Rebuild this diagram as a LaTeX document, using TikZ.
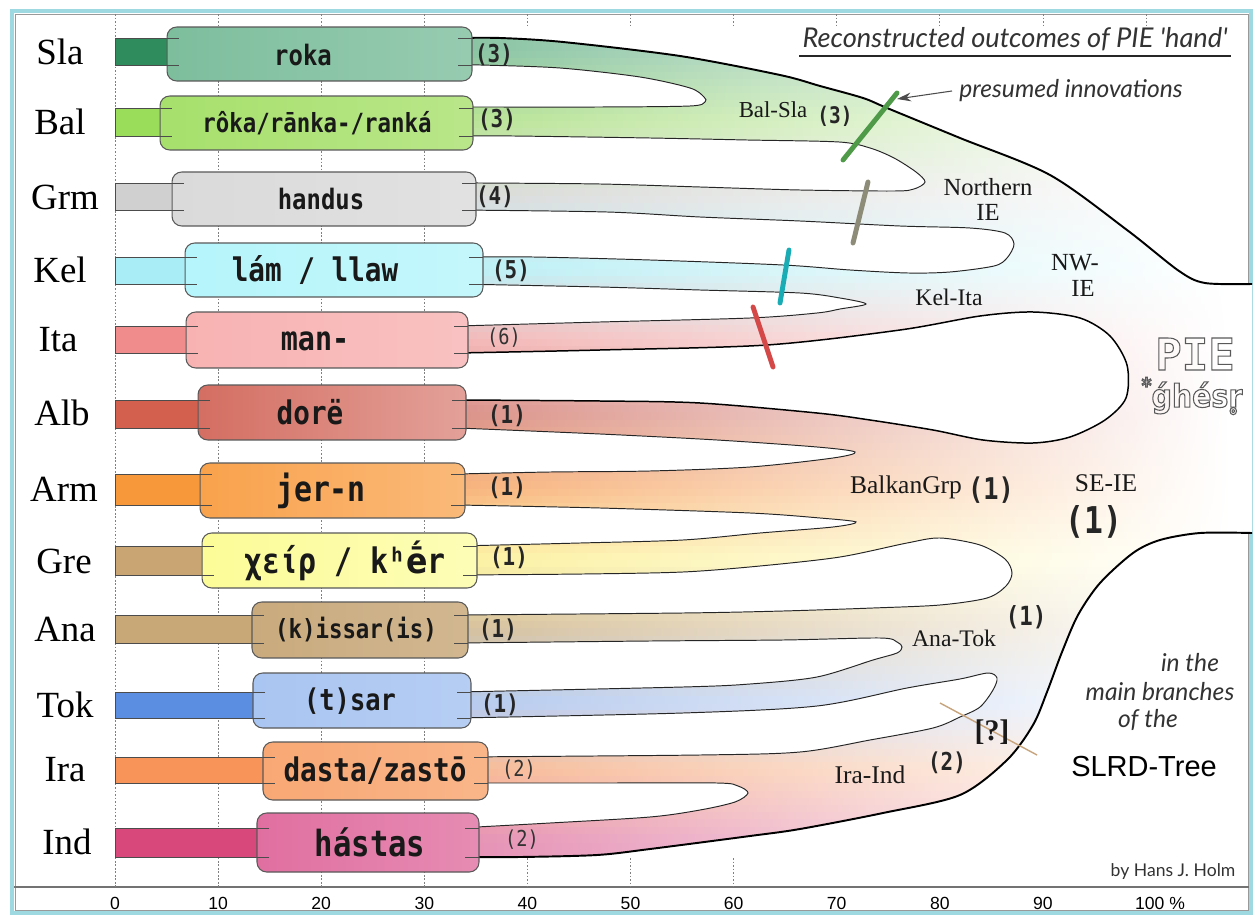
\documentclass[tikz,border=0pt]{standalone}
\usepackage{fontspec}
\setmainfont{Liberation Serif}
\newfontfamily\boxfont{DejaVu Sans Mono}[FakeStretch=0.85]
\newfontfamily\monofont{DejaVu Sans Mono}
\newfontfamily\dvsanscond{DejaVu Sans}[FakeStretch=0.9]
\newfontfamily\humfont{Lato}
\newfontfamily\arialfont{Liberation Sans}
\usetikzlibrary{arrows.meta}
\newcommand\myfs[1]{\fontsize{#1}{#1}\selectfont}
\newcommand\outlon{\special{pdf:literal direct 1 Tr 0.6 w}}
\newcommand\outloff{\special{pdf:literal direct 0 Tr}}
\definecolor{frameC}{HTML}{9ED8E0}
\definecolor{SlaBar}{HTML}{2F8C5C}\definecolor{SlaBox}{HTML}{7DBE9D}\definecolor{SlaBr}{HTML}{88C3A2}
\definecolor{BalBar}{HTML}{9ADD5A}\definecolor{BalBox}{HTML}{A7E06C}\definecolor{BalBr}{HTML}{B8E494}
\definecolor{GrmBar}{HTML}{D0D0D0}\definecolor{GrmBox}{HTML}{DADADA}\definecolor{GrmBr}{HTML}{DADADA}
\definecolor{KelBar}{HTML}{A9EEF6}\definecolor{KelBox}{HTML}{B5F5FB}\definecolor{KelBr}{HTML}{BAF1F7}
\definecolor{ItaBar}{HTML}{F08C8C}\definecolor{ItaBox}{HTML}{F8B2B2}\definecolor{ItaBr}{HTML}{F4B8B8}
\definecolor{AlbBar}{HTML}{D3604E}\definecolor{AlbBox}{HTML}{D46E62}\definecolor{AlbBr}{HTML}{DA928A}
\definecolor{ArmBar}{HTML}{F7993A}\definecolor{ArmBox}{HTML}{F9A24C}\definecolor{ArmBr}{HTML}{F8B47C}
\definecolor{GreBar}{HTML}{C9A574}\definecolor{GreBox}{HTML}{FCFC98}\definecolor{GreBr}{HTML}{FDF4A4}
\definecolor{AnaBar}{HTML}{C9A877}\definecolor{AnaBox}{HTML}{C9AA7D}\definecolor{AnaBr}{HTML}{D6C09C}
\definecolor{TokBar}{HTML}{5B8EE0}\definecolor{TokBox}{HTML}{A9C5F1}\definecolor{TokBr}{HTML}{B4CBF2}
\definecolor{IraBar}{HTML}{F8945A}\definecolor{IraBox}{HTML}{F8A874}\definecolor{IraBr}{HTML}{F8BA94}
\definecolor{IndBar}{HTML}{D8487A}\definecolor{IndBox}{HTML}{E06FA0}\definecolor{IndBr}{HTML}{E590B4}
\definecolor{innovG}{HTML}{4E9A48}\definecolor{innovGr}{HTML}{8C8C78}
\definecolor{innovC}{HTML}{1AACB4}\definecolor{innovR}{HTML}{D44848}\definecolor{tanL}{HTML}{C8A47C}
\newcommand\tongue[2][holeline]{\fill[white] plot[smooth,tension=0.5] coordinates {#2} -- cycle; \draw[#1] plot[smooth,tension=0.5] coordinates {#2};}
\newcommand\rowbar[4]{\filldraw[fill=#1, draw=black!70, line width=0.5pt] (115,#2) rectangle (#4,#3);}
\begin{document}
\begin{tikzpicture}[x=0.02cm, y=-0.02cm,
  holeline/.style={draw=black!85, line width=0.55pt},
  bulbline/.style={draw=black, line width=0.85pt},
  outerline/.style={draw=black, line width=1.1pt},
  gridl/.style={draw=black!50, line width=0.4pt, dash pattern=on 1pt off 1pt},
  boxn/.style={draw=black!65, line width=0.6pt, rounded corners=5.5pt, inner sep=0},
  boxtxt/.style={inner sep=0, text=black!90},
  num/.style={inner sep=0, font=\boxfont\bfseries\myfs{14}, text=black!85},
  numl/.style={inner sep=0, font=\boxfont\myfs{12.5}, text=black!80},
  rowlab/.style={inner sep=0, font=\myfs{21}},
  treelab/.style={inner sep=0, font=\myfs{14}, text=black!90},
  stub/.style={draw=black!70, line width=0.5pt},
  innov/.style={line width=2.8pt, line cap=round},
  axlab/.style={inner sep=0, font=\arialfont\myfs{10}},
  notes/.style={inner sep=0, font=\humfont\itshape\myfs{14}, text=black!80}]
\useasboundingbox (0,0) rectangle (1257,915);
\fill[white] (0,0) rectangle (1257,915);
% frame and axis
\draw[frameC, line width=2.2pt] (12,11) rectangle (1251,913);
\draw[black!40, line width=0.4pt] (15,14) rectangle (1248,910);
\draw[black!55, line width=1.2pt] (14,887) -- (1249,887);
\foreach \k in {0,1,2,3} \draw[gridl] ({115+103.1*\k},14) -- ({115+103.1*\k},887);
\foreach \k in {4,...,10} \draw[gridl] ({115+103.1*\k},14) -- ({115+103.1*\k},27);
\foreach \k in {4,5,6} \draw[gridl] ({115+103.1*\k},858) -- ({115+103.1*\k},887);
% tree body
\begin{scope}
\clip plot[smooth,tension=0.5] coordinates {(458,38) (500,38) (563,42) (680,56) (780,75) (820,86) (863,98) (887,108) (960,138) (1050,175) (1127,230) (1179,271) (1205,283) (1252,284)}
 -- plot[smooth,tension=0.5] coordinates {(1252,533) (1200,533) (1160,540) (1133,553) (1100,583) (1078,615) (1062,652) (1047,692) (1033,725) (1007,760) (960,795) (883,813) (800,829) (750,836) (650,849) (597,855) (520,857) (458,857)} -- cycle;
\fill[white] (0,0) rectangle (1257,915);
\shade[left color=SlaBr, middle color=SlaBr!95!white, right color=white] (458,20) rectangle (1230,52.6);
\shade[left color=IndBr, middle color=IndBr!95!white, right color=white] (458,841.4) rectangle (1230,880);
\foreach \ca/\cola/\cb/\colb in {52/SlaBr/122/BalBr, 122/BalBr/197/GrmBr, 197/GrmBr/270/KelBr, 270/KelBr/340/ItaBr, 340/ItaBr/413/AlbBr, 413/AlbBr/490/ArmBr, 490/ArmBr/561/GreBr, 561/GreBr/629/AnaBr, 629/AnaBr/705/TokBr, 705/TokBr/770/IraBr, 770/IraBr/842/IndBr}{
  \foreach \k in {0,...,9}{
    \pgfmathsetmacro\ya{\ca+(\cb-\ca)*\k/10-0.6}
    \pgfmathsetmacro\yb{\ca+(\cb-\ca)*(\k+1)/10+0.6}
    \pgfmathsetmacro\mix{100-(\k+0.5)*10}
    \colorlet{tmpc}{\cola!\mix!\colb}
    \shade[left color=tmpc, middle color=tmpc!95!white, right color=white] (458,\ya) rectangle (1230,\yb);
  }}
\end{scope}
\draw[outerline] plot[smooth,tension=0.5] coordinates {(458,38) (500,38) (563,42) (680,56) (780,75) (820,86) (863,98) (887,108) (960,138) (1050,175) (1127,230) (1179,271) (1205,283) (1252,284)};
\draw[outerline] plot[smooth,tension=0.5] coordinates {(1252,533) (1200,533) (1160,540) (1133,553) (1100,583) (1078,615) (1062,652) (1047,692) (1033,725) (1007,760) (960,795) (883,813) (800,829) (750,836) (650,849) (597,855) (520,857) (458,857)};
\tongue{(458,65) (480,65) (560,68) (640,77) (690,88) (704,97) (705,102) (690,106) (600,107) (480,107) (458,107)}
\tongue{(458,136) (513,136) (650,138) (747,140) (839,142) (870,148) (894,158) (916,172) (925,182) (914,189) (894,191) (800,190) (700,187) (600,184) (480,183) (458,183)}
\tongue{(458,210) (607,212) (700,217) (800,221) (900,226) (970,228) (1005,233) (1014,244) (1007,258) (994,266) (950,272) (908,273) (850,270) (783,265) (650,260) (533,257) (458,257)}
\tongue{(458,284) (600,287) (700,290) (800,293) (840,298) (866,304) (840,309) (817,313) (750,318) (600,322) (458,326)}
\tongue[bulbline]{(458,353) (600,350) (767,345) (900,330) (980,316) (1033,312) (1080,318) (1110,336) (1127,365) (1126,398) (1105,420) (1070,437) (1033,443) (983,440) (933,430) (870,420) (817,413) (700,403) (600,401) (458,400)}
\tongue{(458,428) (600,434) (717,440) (817,447) (855,452) (833,458) (750,467) (650,471) (550,472) (458,474)}
\tongue{(458,505) (600,508) (750,513) (820,518) (856,522) (833,527) (760,533) (683,540) (580,543) (458,546)}
\tongue{(458,575) (583,574) (683,572) (760,566) (840,557) (907,543) (940,538) (980,545) (1005,559) (1012,573) (1006,586) (987,598) (940,605) (873,608) (783,611) (683,613) (458,615)}
\tongue{(458,643) (650,641) (783,640) (880,638) (897,642) (902,647) (897,653) (873,660) (817,677) (750,684) (683,687) (458,692)}
\tongue{(458,718) (683,713) (817,706) (907,688) (960,679) (988,673) (997,678) (993,690) (980,707) (960,717) (933,728) (870,740) (800,752) (700,755) (458,757)}
\tongue{(458,783) (600,783) (717,783) (738,786) (748,793) (735,802) (700,810) (650,817) (550,823) (458,828)}
% bars
\rowbar{SlaBar}{38}{65}{185}
\rowbar{BalBar}{108}{136}{180}
\rowbar{GrmBar}{183}{210}{190}
\rowbar{KelBar}{257}{284}{205}
\rowbar{ItaBar}{326}{353}{205}
\rowbar{AlbBar}{400}{428}{215}
\rowbar{ArmBar}{474}{505}{220}
\rowbar{GreBar}{546}{575}{220}
\rowbar{AnaBar}{615}{643}{270}
\rowbar{TokBar}{692}{718}{270}
\rowbar{IraBar}{757}{783}{280}
\rowbar{IndBar}{828}{857}{275}
% boxes
\node[boxn, left color=SlaBox, right color=SlaBox!80!white, minimum width=6.10cm, minimum height=1.08cm] (slaB) at (319.5,54) {};
\node[boxn, left color=BalBox, right color=BalBox!80!white, minimum width=6.26cm, minimum height=1.08cm] (balB) at (316.5,123) {};
\node[boxn, left color=GrmBox, right color=GrmBox!80!white, minimum width=6.08cm, minimum height=1.08cm] (grmB) at (324,199) {};
\node[boxn, left color=KelBox, right color=KelBox!80!white, minimum width=5.96cm, minimum height=1.08cm] (kelB) at (334,270) {};
\node[boxn, left color=ItaBox, right color=ItaBox!80!white, minimum width=5.64cm, minimum height=1.12cm] (itaB) at (327,340) {};
\node[boxn, left color=AlbBox, right color=AlbBox!65!white, minimum width=5.36cm, minimum height=1.10cm] (albB) at (332,412.5) {};
\node[boxn, left color=ArmBox, right color=ArmBox!75!white, minimum width=5.30cm, minimum height=1.10cm] (armB) at (332.5,490.5) {};
\node[boxn, left color=GreBox, right color=GreBox!70!white, minimum width=5.50cm, minimum height=1.10cm] (greB) at (339.5,560.5) {};
\node[boxn, left color=AnaBox, right color=AnaBox!85!white, minimum width=4.32cm, minimum height=1.12cm] (anaB) at (360,630) {};
\node[boxn, left color=TokBox, right color=TokBox!85!white, minimum width=4.36cm, minimum height=1.10cm] (tokB) at (362,700.5) {};
\node[boxn, left color=IraBox, right color=IraBox!85!white, minimum width=4.50cm, minimum height=1.16cm] (iraB) at (375.5,771) {};
\node[boxn, left color=IndBox, right color=IndBox!80!white, minimum width=4.44cm, minimum height=1.18cm] (indB) at (368,842.5) {};
% stubs (band outlines seen at box edges)
\foreach \l/\r/\t/\b in {167/472/38/65, 160/473/108/136, 172/476/183/210, 185/483/257/284, 186/468/326/353, 198/466/400/428, 200/465/474/505, 202/477/546/575, 252/468/615/643, 253/471/692/718, 263/488/757/783, 257/479/828/857}
  {\draw[stub] (\l,\t) -- ++(12,0); \draw[stub] (\l,\b) -- ++(12,0);
   \draw[stub] (\r,\t) -- ++(-14,0); \draw[stub] (\r,\b) -- ++(-14,0);}
% box texts
\node[boxtxt, font=\boxfont\bfseries\myfs{16}] (slaT) at (303,55) {roka};
\node[boxtxt, font=\boxfont\bfseries\myfs{15}] (balT) at (317,123) {rôka/rānka-/ranká};
\node[boxtxt, font=\boxfont\bfseries\myfs{16}] (grmT) at (321,199) {handus};
\node[boxtxt, font=\boxfont\bfseries\myfs{18.5}] (kelT) at (315,270) {lám / llaw};
\node[boxtxt, font=\boxfont\bfseries\myfs{19}] (itaT) at (315,341) {man-};
\node[boxtxt, font=\boxfont\bfseries\myfs{18.5}] (albT) at (310,412) {dorë};
\node[boxtxt, font=\boxfont\bfseries\myfs{20}] (armT) at (321,491) {jer-n};
\node[boxtxt, font=\boxfont\bfseries\myfs{20}] (greT) at (345,561) {χείρ / kʰ{\dvsanscond\bfseries ḗ}r};
\node[boxtxt, font=\boxfont\bfseries\myfs{15}] (anaT) at (356,630) {(k)issar(is)};
\node[boxtxt, font=\boxfont\bfseries\myfs{17}] (tokT) at (350,701) {(t)sar};
\node[boxtxt, font=\boxfont\bfseries\myfs{18.5}] (iraT) at (375,771) {dasta/zastō};
\node[boxtxt, font=\boxfont\bfseries\myfs{20.5}] (indT) at (370,842) {hástas};
% numbers
\node[num] (slaN) at (494,55) {(3)};
\node[num] (balN) at (497,120) {(3)};
\node[num] (grmN) at (495,197) {(4)};
\node[num] (kelN) at (511,271) {(5)};
\node[numl] (itaN) at (504,338) {(6)};
\node[num] (albN) at (507,416) {(1)};
\node[num] (armN) at (507,488) {(1)};
\node[num] (greN) at (509,558) {(1)};
\node[num] (anaN) at (498,630) {(1)};
\node[num] (tokN) at (500,705) {(1)};
\node[numl] (iraN) at (519,770) {(2)};
\node[numl] (indN) at (522,840) {(2)};
% row labels
\node[rowlab] (slaL) at (60,52) {Sla};
\node[rowlab] (balL) at (60,122) {Bal};
\node[rowlab] (grmL) at (65,197) {Grm};
\node[rowlab] (kelL) at (60,270) {Kel};
\node[rowlab] (itaL) at (58,340) {Ita};
\node[rowlab] (albL) at (62,413) {Alb};
\node[rowlab] (armL) at (64,489) {Arm};
\node[rowlab] (greL) at (64,561) {Gre};
\node[rowlab] (anaL) at (65,629) {Ana};
\node[rowlab] (tokL) at (65,705) {Tok};
\node[rowlab] (iraL) at (65,770) {Ira};
\node[rowlab] (indL) at (67,842) {Ind};
% innovation marks
\draw[innov, innovG] (897,93) -- (843,160);
\draw[innov, innovGr] (868,182) -- (853,243);
\draw[innov, innovC] (789,250) -- (780,303);
\draw[innov, innovR] (753,307) -- (773,367);
\draw[tanL, line width=0.8pt] (940,703) -- (1037,755);
% tree labels
\node[treelab, font=\myfs{13}] (balsla) at (773,110) {Bal-Sla};
\node[num, font=\boxfont\bfseries\myfs{13}] (balslaN) at (835,116) {(3)};
\node[treelab] (north) at (988,187) {Northern};
\node[treelab] (northIE) at (988,212) {IE};
\node[treelab] (nw) at (1075,263) {NW-};
\node[treelab] (nwIE) at (1083,288) {IE};
\node[treelab, font=\myfs{13.5}] (kelita) at (949,297) {Kel-Ita};
\node[treelab, font=\myfs{14.5}] (balkan) at (906,487) {BalkanGrp};
\node[num, font=\boxfont\bfseries\myfs{17}] (balkanN) at (991,490) {(1)};
\node[treelab, font=\myfs{14.5}] (seie) at (1106,483) {SE-IE};
\node[num, font=\boxfont\bfseries\myfs{21}] (seieN) at (1094,522) {(1)};
\node[treelab, font=\myfs{13.5}] (anatok) at (954,638) {Ana-Tok};
\node[num, font=\boxfont\bfseries\myfs{15}] (anatokN) at (1026,617) {(1)};
\node[treelab, font=\myfs{14.5}] (iraind) at (870,775) {Ira-Ind};
\node[num, font=\boxfont\bfseries\myfs{14}] (iraindN) at (947,763) {(2)};
\node[treelab, font=\bfseries\myfs{17}] (query) at (992,732) {[?]};
% PIE root
\node[inner sep=0, font=\monofont\bfseries\myfs{25}, text=black!65] (pie) at (1195,354) {\outlon PIE\outloff};
\node[inner sep=0, font=\dvsanscond\bfseries\myfs{18}, text=black!65] (ghesr) at (1192,396) {\outlon\raisebox{0.45em}{\myfs{12}*}ǵhésr̥\outloff};
% title and notes
\node[notes, font=\humfont\itshape\myfs{15.5}] (title) at (1015,39) {Reconstructed outcomes of PIE \textquotesingle{}hand\textquotesingle};
\draw[black!85, line width=1.3pt] (799,56) -- (1231,56);
\node[notes] (pi) at (1071,91) {presumed innovations};
\coordinate (innovtip) at (897,99);
\draw[black!70, line width=0.6pt, -{Stealth[length=8pt,width=5pt]}] ([xshift=-4pt]pi.west) -- (innovtip);
\node[notes] (inthe) at (1190,663) {in the};
\node[notes] (mainbr) at (1160,692) {main branches};
\node[notes] (ofthe) at (1148,720) {of the};
\node[inner sep=0, font=\arialfont\myfs{16.5}] (slrd) at (1144,767) {SLRD-Tree};
\node[inner sep=0, font=\humfont\myfs{10}, text=black!80] (credit) at (1173,872) {by Hans J. Holm};
% axis labels
\foreach \k/\t in {0/0,1/10,2/20,3/30,4/40,5/50,6/60,7/70,8/80,9/90}
  \node[axlab] (ax\k) at ({115+103.1*\k},903) {\t};
\node[axlab] (ax10) at (1160,903) {100 \%};
\end{tikzpicture}
\end{document}
